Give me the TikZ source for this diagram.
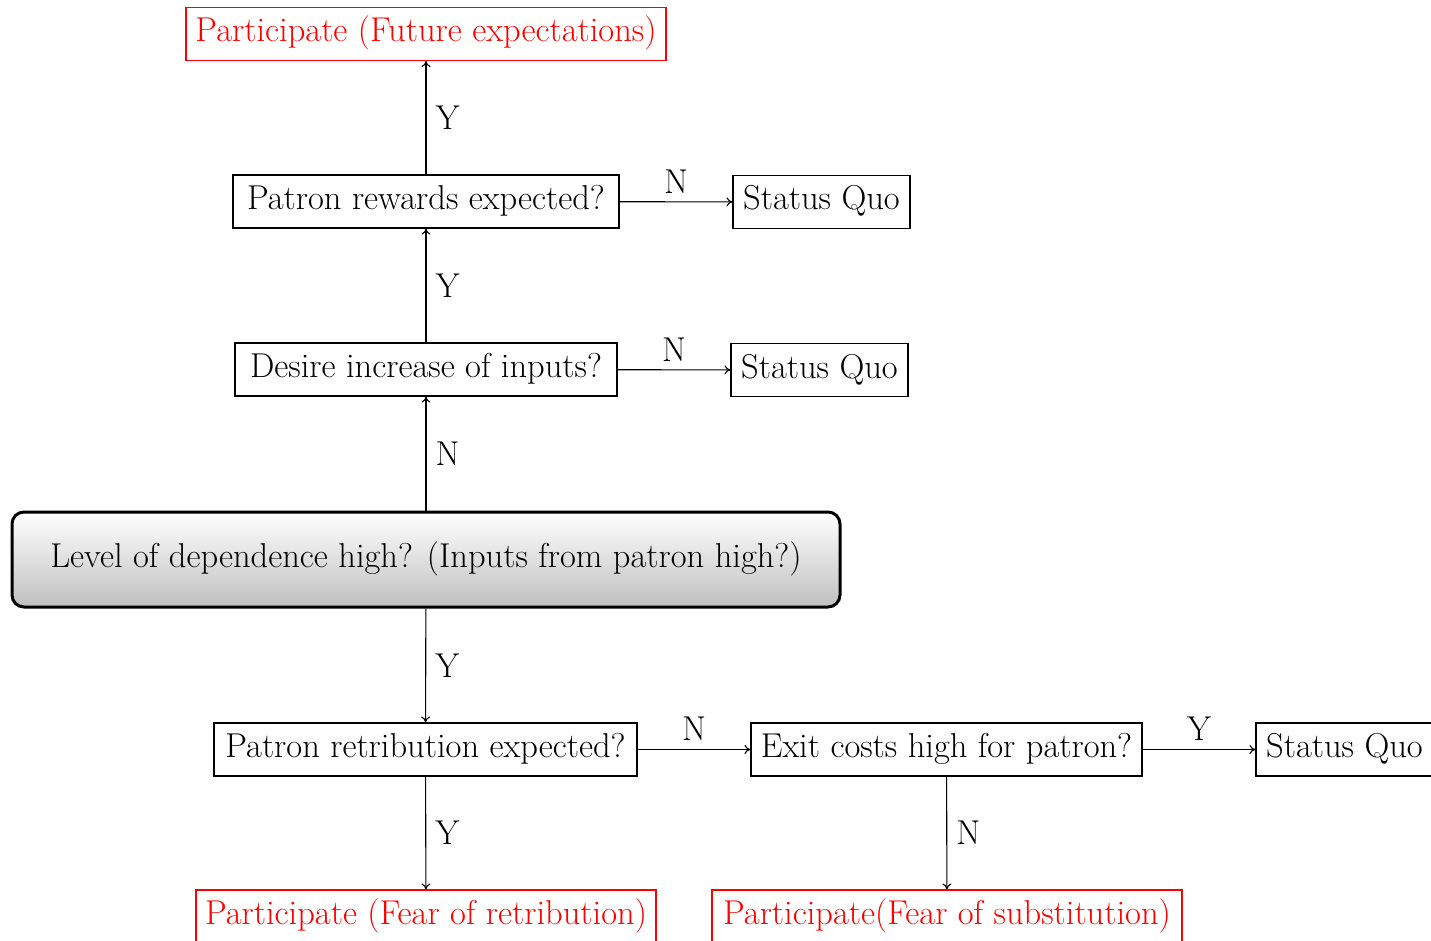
\documentclass[tikz,border=0pt]{standalone}
\usepackage{fontspec}
\usetikzlibrary{arrows.meta,shadings}
\begin{document}
\begin{tikzpicture}[x=1pt,y=-1pt,
  every node/.style={font={\fontsize{34.5}{40}\selectfont}},
  qbox/.style={draw=black, line width=1.1pt, inner xsep=4pt, inner ysep=0pt, minimum height=53pt, text height=23pt, text depth=7pt},
  redbox/.style={qbox, draw=red, text=red},
  mainbox/.style={draw=black, line width=3pt, rounded corners=12pt, top color=white, bottom color=black!25, minimum width=828pt, minimum height=95pt, text height=23pt, text depth=7pt},
  conn/.style={line width=1.1pt, -{To[length=6pt,width=9pt]}},
  lblr/.style={midway, right, inner sep=9pt},
  lbla/.style={midway, above, inner sep=8pt}
]
\useasboundingbox (0,0) rectangle (1431,941);
\node[redbox, minimum width=480pt] (fut) at (426,34) {Participate (Future expectations)};
\node[qbox, minimum width=386pt] (rew) at (426,201.5) {Patron rewards expected?};
\node[qbox, minimum width=177pt] (sq1) at (821.5,202) {Status Quo};
\node[qbox, minimum width=382pt] (des) at (426,369.5) {Desire increase of inputs?};
\node[qbox, minimum width=177pt] (sq2) at (819.5,370) {Status Quo};
\node[mainbox] (lev) at (426,559.5) {Level of dependence high? (Inputs from patron high?)};
\node[qbox, minimum width=423pt] (ret) at (425.5,749.5) {Patron retribution expected?};
\node[qbox, minimum width=391pt] (exi) at (946.5,749.5) {Exit costs high for patron?};
\node[qbox, minimum width=177pt] (sq3) at (1344.5,749.5) {Status Quo};
\node[redbox, minimum width=460pt] (fr) at (426,916.5) {Participate (Fear of retribution)};
\node[redbox, minimum width=470pt] (fs) at (947,916.5) {Participate(Fear of substitution)};

\draw[conn] (rew) -- node[lblr] {Y} (fut);
\draw[conn] (rew) -- node[lbla] {N} (sq1);
\draw[conn] (des) -- node[lblr] {Y} (rew);
\draw[conn] (des) -- node[lbla] {N} (sq2);
\draw[conn] (lev) -- node[lblr] {N} (des);
\draw[conn] (lev) -- node[lblr] {Y} (ret);
\draw[conn] (ret) -- node[lbla] {N} (exi);
\draw[conn] (exi) -- node[lbla] {Y} (sq3);
\draw[conn] (ret) -- node[lblr] {Y} (fr);
\draw[conn] (exi) -- node[lblr] {N} (fs);
\end{tikzpicture}
\end{document}
